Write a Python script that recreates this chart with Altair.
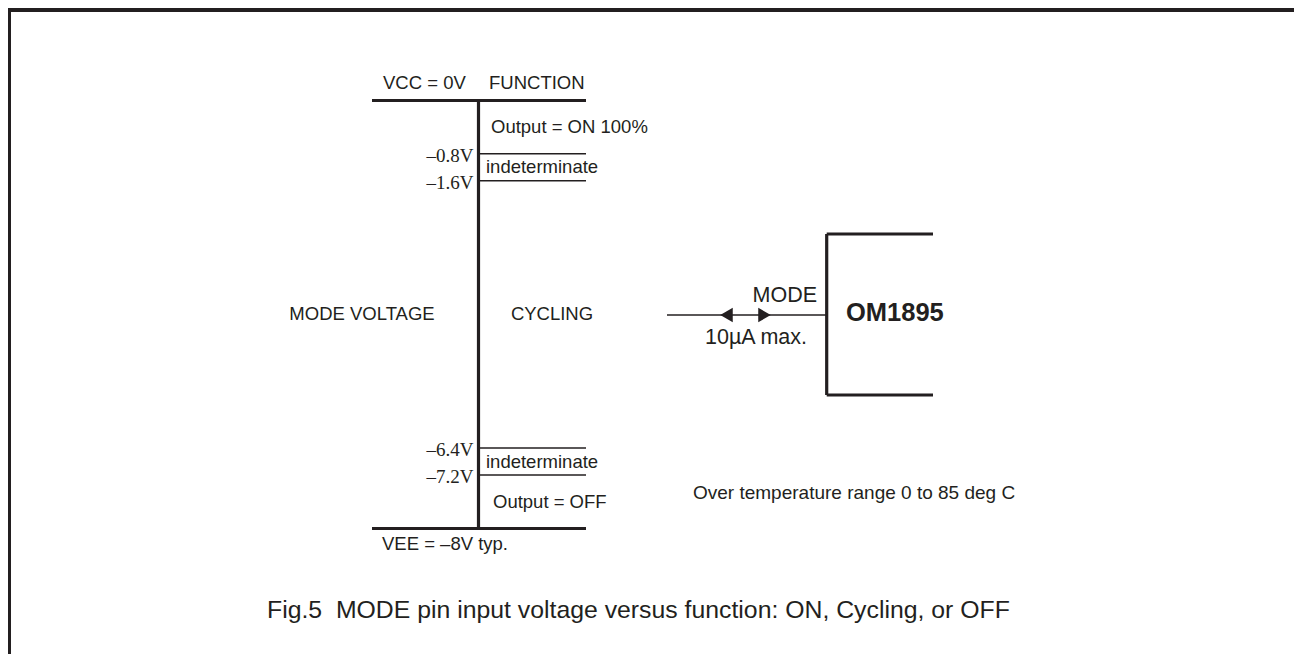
import altair as alt
import pandas as pd

# ---------------- data ----------------
ALL_VOLTS = [0.0, -0.8, -1.6, -6.4, -7.2, -8.0]          # rail / threshold levels
RAIL_VOLTS = [0.0, -8.0]
RAIL_LABELS = ["VCC = 0V", "VEE = –8V typ."]
LEVEL_VOLTS = [-0.8, -1.6, -6.4, -7.2]
LEVEL_LABELS = ["–0.8V", "–1.6V", "–6.4V", "–7.2V"]
BAND_LABELS = ["Output = ON 100%", "indeterminate", "CYCLING", "indeterminate", "Output = OFF"]
AXIS_TITLE = "MODE VOLTAGE"
COLUMN_TITLE = "FUNCTION"
PIN_NAME = "MODE"
PIN_CURRENT = "10µA max."
DEVICE = "OM1895"
NOTE = "Over temperature range 0 to 85 deg C"
CAPTION = "Fig.5\u00a0 MODE pin input voltage versus function: ON, Cycling, or OFF"

# ---------------- layout (page pixels) ----------------
W, H = 1286, 646
OX, OY = 8, 8
VOLT_PAGE_Y = [100.5, 153.7, 180.7, 448.0, 475.0, 528.5]   # schematic (non-linear) placement
VOLT_RANGE = [p - OY for p in VOLT_PAGE_Y]
SPINE_X = 478.5
RAIL_X0, RAIL_X1 = 372, 586
BAND_X = [491, 486, 552, 486, 493]
BAND_ALIGN = ["left", "left", "center", "left", "left"]

INK = "#231f20"
SANS = "Liberation Sans"
SERIF = "Liberation Serif"

band_mid = [(ALL_VOLTS[i] + ALL_VOLTS[i + 1]) / 2 for i in range(len(ALL_VOLTS) - 1)]


def vy(field="v"):
    return alt.Y(f"{field}:Q", axis=None,
                 scale=alt.Scale(domain=ALL_VOLTS, range=VOLT_RANGE, nice=False, zero=False))


def lx(field="x"):
    return alt.X(f"{field}:Q", axis=None,
                 scale=alt.Scale(domain=[OX, OX + W], range=[0, W], nice=False, zero=False))


def ly(field="y"):
    return alt.Y(f"{field}:Q", axis=None,
                 scale=alt.Scale(domain=[OY, OY + H], range=[0, H], nice=False, zero=False))


# ---- voltage rails (thick) and threshold levels (thin) ----
rails = pd.DataFrame({"v": RAIL_VOLTS, "x": [RAIL_X0] * 2, "x2": [RAIL_X1] * 2})
rail_layer = alt.Chart(rails).mark_rule(color=INK, strokeWidth=3.2).encode(
    x=lx("x"), x2="x2", y=vy())

levels = pd.DataFrame({"v": LEVEL_VOLTS, "x": [SPINE_X] * 4, "x2": [RAIL_X1] * 4,
                       "label": LEVEL_LABELS})
level_layer = alt.Chart(levels).mark_rule(color=INK, strokeWidth=1.4).encode(
    x=lx("x"), x2="x2", y=vy())
level_text = alt.Chart(levels).mark_text(
    align="right", baseline="middle", font=SERIF, fontSize=19, color=INK, dx=-5, dy=2
).encode(x=lx("x"), y=vy(), text="label:N")

spine = pd.DataFrame({"v": [ALL_VOLTS[0]], "v2": [ALL_VOLTS[-1]], "x": [SPINE_X]})
spine_layer = alt.Chart(spine).mark_rule(color=INK, strokeWidth=3.2).encode(
    x=lx("x"), y=vy(), y2="v2")

# ---- rail labels ----
vcc = pd.DataFrame({"v": [RAIL_VOLTS[0], RAIL_VOLTS[0]], "x": [383, 489],
                    "label": [RAIL_LABELS[0], COLUMN_TITLE]})
vcc_text = alt.Chart(vcc).mark_text(
    align="left", baseline="alphabetic", font=SANS, fontSize=18.5, color=INK, dy=-12
).encode(x=lx("x"), y=vy(), text="label:N")
vee = pd.DataFrame({"v": [RAIL_VOLTS[1]], "x": [382], "label": [RAIL_LABELS[1]]})
vee_text = alt.Chart(vee).mark_text(
    align="left", baseline="middle", font=SANS, fontSize=18.5, color=INK, dy=15
).encode(x=lx("x"), y=vy(), text="label:N")

# ---- band labels ----
bands = pd.DataFrame({"v": band_mid, "x": BAND_X, "label": BAND_LABELS, "align": BAND_ALIGN})
band_left = alt.Chart(bands[bands["align"] == "left"]).mark_text(
    align="left", baseline="middle", font=SANS, fontSize=18.5, color=INK
).encode(x=lx("x"), y=vy(), text="label:N")
centre = pd.concat([
    bands[bands["align"] == "center"][["v", "x", "label"]],
    pd.DataFrame({"v": [band_mid[2]], "x": [362], "label": [AXIS_TITLE]}),
])
band_centre = alt.Chart(centre).mark_text(
    align="center", baseline="middle", font=SANS, fontSize=18.5, color=INK
).encode(x=lx("x"), y=vy(), text="label:N")

# ---- device block, pin line, frame ----
segs = pd.DataFrame({
    "x": [826.7, 826.7, 826.7, 667, 8, 9.5],
    "y": [234, 234, 395, 315, 10, 8],
    "x2": [826.7, 933, 933, 826.7, 1302, 9.5],
    "y2": [395, 234, 395, 315, 10, 664],
    "w": [3.2, 3.2, 3.2, 1.5, 4, 3],
})
seg_layer = alt.Chart(segs).mark_rule(color=INK).encode(
    x=lx("x"), x2="x2", y=ly("y"), y2="y2",
    strokeWidth=alt.StrokeWidth("w:Q", scale=None))

arrows = pd.DataFrame({"x": [726.5, 764.5], "y": [315, 315],
                       "shape": ["triangle-left", "triangle-right"]})
arrow_layer = alt.Chart(arrows).mark_point(filled=True, color=INK, opacity=1, size=210).encode(
    x=lx("x"), y=ly("y"), shape=alt.Shape("shape:N", scale=None))

pin_txt = pd.DataFrame({"x": [817, 807], "y": [296, 338], "label": [PIN_NAME, PIN_CURRENT]})
pin_layer = alt.Chart(pin_txt).mark_text(
    align="right", baseline="middle", font=SANS, fontSize=21.5, color=INK
).encode(x=lx("x"), y=ly("y"), text="label:N")

dev = pd.DataFrame({"x": [846], "y": [313], "label": [DEVICE]})
dev_layer = alt.Chart(dev).mark_text(
    align="left", baseline="middle", font=SANS, fontSize=25.5, fontWeight="bold", color=INK
).encode(x=lx("x"), y=ly("y"), text="label:N")

note = pd.DataFrame({"x": [693], "y": [493], "label": [NOTE]})
note_layer = alt.Chart(note).mark_text(
    align="left", baseline="middle", font=SANS, fontSize=19, color=INK
).encode(x=lx("x"), y=ly("y"), text="label:N")

cap = pd.DataFrame({"x": [267], "y": [611], "label": [CAPTION]})
cap_layer = alt.Chart(cap).mark_text(
    align="left", baseline="middle", font=SANS, fontSize=24.8, color=INK
).encode(x=lx("x"), y=ly("y"), text="label:N")

chart = alt.layer(
    seg_layer, rail_layer, level_layer, spine_layer, level_text, vcc_text, vee_text,
    band_left, band_centre, arrow_layer, pin_layer, dev_layer, note_layer, cap_layer
).resolve_scale(
    x="independent", y="independent", strokeWidth="independent", shape="independent"
).properties(
    width=W, height=H, padding=0, autosize=alt.AutoSizeParams(type="none"), background="white"
).configure_view(strokeWidth=0)

chart.save("out.html", embed_options={"renderer": "svg", "actions": False})
